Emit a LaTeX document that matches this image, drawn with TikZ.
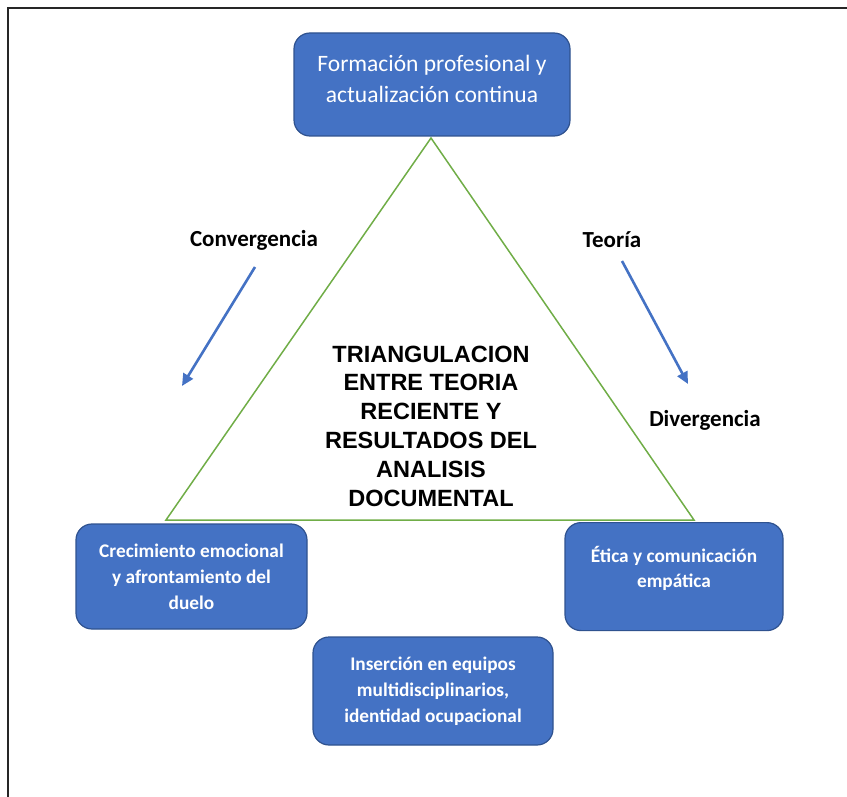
\documentclass[tikz,border=0pt]{standalone}
\usepackage{fontspec}
\setmainfont{Carlito}
\newfontfamily\arialfont{Liberation Sans}
\usetikzlibrary{arrows.meta}
\definecolor{boxblue}{HTML}{4472C4}
\definecolor{boxedge}{HTML}{2F528F}
\definecolor{trigreen}{HTML}{70AD47}
\begin{document}
\begin{tikzpicture}[x=1pt,y=-1pt,
  bluebox/.style={draw=boxedge,line width=1.2pt,fill=boxblue,rounded corners=16pt,text=white,align=center},
  lbl/.style={font=\bfseries\fontsize{23}{26}\selectfont,text=black},
  bluearrow/.style={draw=boxblue,line width=2.6pt,-{Triangle[length=12pt,width=11pt]}}]
\useasboundingbox (0,0) rectangle (847,797);
\begin{scope}
\clip (0,0) rectangle (847,797);
\draw[line width=2.2pt,black!85] (8,900) -- (8,8) -- (900,8);
\end{scope}
% triangle
\coordinate (A) at (431,138);
\coordinate (B) at (166,520);
\coordinate (C) at (694,520);
\draw[trigreen,line width=1.5pt] (A) -- (B) -- (C) -- cycle;
% boxes
\node[bluebox,minimum width=276pt,minimum height=103pt] (top) at (432,84.5) {};
\node[font=\fontsize{23.5}{31}\selectfont,text=white,align=center] (toptext) at (432,79)
  {Formación profesional y\\actualización continua};
\node[bluebox,minimum width=231pt,minimum height=105pt,font=\bfseries\fontsize{19.3}{26}\selectfont] (left) at (191.5,576.5)
  {Crecimiento emocional\\y afrontamiento del\\duelo};
\node[bluebox,minimum width=218pt,minimum height=108pt,anchor=north] (right) at (674,522) {};
\node[font=\bfseries\fontsize{19.3}{25}\selectfont,text=white,align=center,anchor=north] (righttext) at (674,543)
  {Ética y comunicación\\empática};
\node[bluebox,minimum width=240pt,minimum height=108pt,font=\bfseries\fontsize{19.3}{26}\selectfont] (bottom) at (433,691)
  {Inserción en equipos\\multidisciplinarios,\\identidad ocupacional};
% center text
\node[font=\arialfont\bfseries\fontsize{23.5}{28.8}\selectfont,align=center] (center) at (431,426)
  {TRIANGULACION\\ENTRE TEORIA\\RECIENTE Y\\RESULTADOS DEL\\ANALISIS\\DOCUMENTAL};
% labels
\node[lbl] (conv) at (254,240) {Convergencia};
\node[lbl] (teo) at (612,240) {Teoría};
\node[lbl] (div) at (705,420) {Divergencia};
\coordinate (c1) at (255,267);
\coordinate (c2) at (182,386);
\coordinate (t1) at (622,261);
\coordinate (t2) at (688,384);
\draw[bluearrow] (c1) -- (c2);
\draw[bluearrow] (t1) -- (t2);
\end{tikzpicture}
\end{document}
